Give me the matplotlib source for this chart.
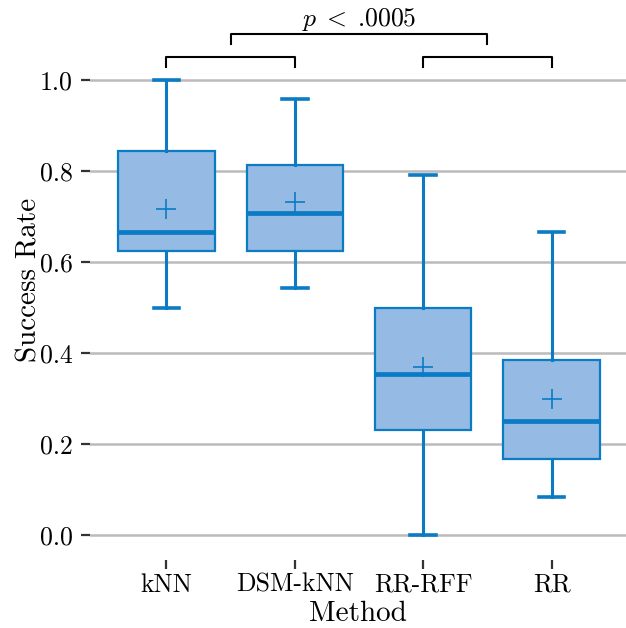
import matplotlib
matplotlib.use("Agg")
from matplotlib import pyplot as plt

plt.rcParams['font.family'] = ['cmr10', 'DejaVu Serif']
plt.rcParams['mathtext.fontset'] = 'cm'
plt.rcParams['axes.formatter.use_mathtext'] = True

# box statistics
methods = ['kNN', 'DSM-kNN', 'RR-RFF', 'RR']
whislo = [0.500, 0.543, 0.000, 0.083]
q1 = [0.625, 0.625, 0.231, 0.167]
med = [0.667, 0.708, 0.354, 0.250]
q3 = [0.844, 0.813, 0.500, 0.385]
whishi = [1.000, 0.958, 0.792, 0.667]
means = [0.716, 0.732, 0.369, 0.299]

edge = '#0a7bc4'
fill = '#95bae3'

stats = []
for i, m in enumerate(methods):
    stats.append(dict(label=m, whislo=whislo[i], q1=q1[i], med=med[i], q3=q3[i],
                      whishi=whishi[i], mean=means[i], fliers=[]))

fig = plt.figure(figsize=(6.26, 6.28), dpi=100)
ax = fig.add_axes([90 / 626, 68 / 628, 536 / 626, 560 / 628])

ax.bxp(stats, positions=range(4), widths=0.75, capwidths=0.2, showmeans=True,
       patch_artist=True,
       boxprops=dict(facecolor=fill, edgecolor=edge, linewidth=1.6),
       medianprops=dict(color=edge, linewidth=3.4),
       whiskerprops=dict(color=edge, linewidth=2.2),
       capprops=dict(color=edge, linewidth=2.6),
       meanprops=dict(marker='+', markeredgecolor=edge, markersize=14,
                      markeredgewidth=1.2))

ax.set_xlim(-0.595, 3.58)
ax.set_ylim(-0.055, 1.176)
ax.set_yticks([0.0, 0.2, 0.4, 0.6, 0.8, 1.0])
ax.set_yticklabels(['0.0', '0.2', '0.4', '0.6', '0.8', '1.0'])
ax.yaxis.grid(True, color='#bbbbbb', linewidth=1.8)
ax.set_axisbelow(True)
for s in ax.spines.values():
    s.set_visible(False)
ax.tick_params(axis='both', length=6.5, width=1.6, color='#333333',
               labelsize=18.5)
ax.tick_params(axis='x', pad=3)
ax.tick_params(axis='y', pad=6)
ax.set_xlabel('Method', fontsize=21, labelpad=3)
ax.set_ylabel('Success Rate', fontsize=21, labelpad=-2)

# significance brackets
for a, b in [(0, 1), (2, 3)]:
    ax.plot([a, a, b, b], [1.029, 1.051, 1.051, 1.029], color='black',
            linewidth=1.5)
ax.plot([0.5, 0.5, 2.5, 2.5], [1.080, 1.101, 1.101, 1.080], color='black',
        linewidth=1.5)
ax.text(1.5, 1.104, r'$p\;<\;$.0005', ha='center', va='bottom', fontsize=18.5)

fig.savefig('out.png', dpi=100)
